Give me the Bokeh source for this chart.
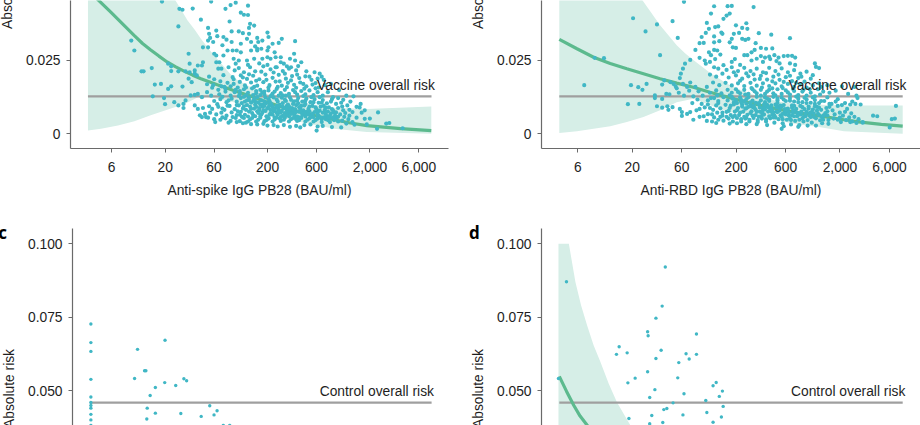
from bokeh.plotting import figure
from bokeh.layouts import column, row
from bokeh.models import FixedTicker, NumeralTickFormatter, Label
from bokeh.embed import file_html
from bokeh.resources import INLINE

# all readings: (log10 of BAU/ml, absolute risk in %)
spike_upper = [(1.27,4.51),(1.75,4.51),(1.94,4.39),(1.99,4.47),(1.89,4.26),(2.11,4.37),(1.44,4.26),(1.47,4.23),(1.57,4.27),
(2.04,4.13),(2.07,4.06),(2.11,4.05),(1.93,3.83),(1.65,3.89),(2.13,3.75),(2.17,3.69),(2.12,3.61),(1.43,3.66),(1.72,3.61),
(1.80,3.52),(1.95,3.49),(2.02,3.49),(2.06,3.43),(2.12,3.41),(2.30,3.45),(1.73,3.41),(1.81,3.33),(1.74,3.27),(1.72,3.18),
(1.77,3.13),(1.87,3.30),(1.90,3.21),(1.95,3.13),(2.04,3.07),(2.10,3.24),(2.20,3.27),(2.21,3.13),(2.25,3.18),(2.14,3.13),
(2.18,2.98),(2.20,2.90),(2.31,3.30),(2.35,3.07),(2.44,3.24),(2.41,3.10),(2.57,3.16),(0.97,3.18),(1.00,2.84),(1.53,2.73),
(1.67,2.95),(1.72,2.95),(1.78,2.73),(1.80,2.67),(1.86,3.02),(1.91,2.84),(1.96,2.84),(2.00,2.84),(2.04,2.78),(2.14,2.84),
(2.20,2.84),(2.24,2.90),(2.30,2.84),(2.31,2.95),(2.37,2.78),(1.80,2.44),(1.83,2.44),(1.87,2.67),(1.67,2.44),(1.66,2.33),
(1.54,2.39),(1.62,2.33),(1.59,2.16),(1.50,2.13),(1.82,2.22),(1.85,2.22),(1.97,2.56),(1.99,2.39),(2.02,2.50),(2.10,2.50),
(2.17,2.56),(2.25,2.56),(2.30,2.61),(2.33,2.56),(2.38,2.61),(2.43,2.61),(2.56,2.73),(2.52,2.56),(2.57,2.50),(2.43,2.44),
(2.46,2.39),(2.63,2.44),(2.53,2.27),(2.39,2.27),(1.33,2.39),(1.36,2.30),(1.36,2.14),(1.43,2.13),(1.17,2.24),(1.07,2.13),
(1.09,2.13),(1.54,2.10),(1.59,2.05),(1.61,1.99),(1.53,1.88),(1.56,1.76),(1.47,1.61),(1.20,1.68),(1.26,1.70),(1.36,1.62),
(1.33,1.53),(1.29,1.22),(1.18,1.28),(1.30,1.01),(1.39,1.08),(1.43,0.97),(1.48,1.02),(1.50,1.14),(1.48,0.88),(1.55,1.31),
(1.59,1.33),(1.62,1.36),(1.66,1.25),(1.71,1.42),(1.76,1.57),(1.59,0.97),(1.62,0.85),(1.67,0.88),(1.73,0.94),(1.64,0.63),
(1.69,0.68),(1.70,0.57),(1.66,0.57)]
spike_mid = [(1.92,2.27),(1.98,2.16),(2.02,2.24),(2.07,2.10),(2.13,2.27),(2.18,2.13),(2.26,2.30),(2.33,2.20),(2.38,2.27),
(2.45,2.14),(2.51,2.22),(2.58,2.16),(2.68,2.13),(2.76,2.10),(2.81,2.05),(1.87,2.00),(1.96,1.93),(2.04,1.99),(2.10,1.87),
(2.16,1.98),(2.22,1.86),(2.28,2.02),(2.35,1.91),(2.41,2.01),(2.48,1.88),(2.54,1.97),(2.61,1.90),(2.67,1.96),(2.73,1.84),
(2.79,1.88),(2.85,1.84),(1.73,1.95),(1.78,1.86),(1.84,1.79),(1.71,1.69),(1.77,1.66),(1.85,1.62),(1.91,1.74),(1.97,1.70),
(2.03,1.77),(2.08,1.65),(2.14,1.75),(2.20,1.64),(2.26,1.76),(2.32,1.66),(2.38,1.78),(2.44,1.64),(2.50,1.74),(2.56,1.67),
(2.62,1.75),(2.68,1.62),(2.74,1.68),(2.80,1.58),(2.86,1.66),(2.92,1.70),(3.00,1.49),(3.07,1.30),(3.14,1.28),
(1.97,1.86),(2.01,1.58),(2.06,1.92),(2.12,2.03),(2.19,1.81),(2.24,2.12),(2.29,1.84),(2.36,2.09),(2.42,1.79),(2.47,2.05),
(2.53,1.82),(2.59,2.02),(2.65,1.70),(2.71,1.95),(2.77,1.73),(2.83,1.95),(1.89,1.53),(1.94,1.62),(2.09,1.58),(2.17,1.60),
(2.31,1.58),(2.40,1.60),(2.49,1.59),(2.58,1.57),(2.66,1.54),(2.77,1.55),(2.11,2.35),(2.22,2.40),(2.30,2.35),(2.49,2.30),(2.60,2.31)]
spike_blob = [(1.83,1.35),(1.89,1.44),(1.94,1.30),(1.99,1.50),(2.03,1.36),(2.07,1.52),(2.11,1.40),(2.15,1.55),(2.19,1.38),
(2.23,1.50),(2.27,1.34),(2.31,1.48),(2.35,1.37),(2.39,1.53),(2.43,1.39),(2.47,1.50),(2.51,1.36),(2.55,1.49),(2.59,1.34),
(2.63,1.46),(2.67,1.35),(2.71,1.48),(2.75,1.32),(2.79,1.42),(2.84,1.30),(2.89,1.42),(2.94,1.25),(2.99,1.22),(1.78,1.12),
(1.84,1.18),(1.90,1.08),(1.95,1.20),(2.00,1.10),(2.04,1.22),(2.08,1.10),(2.12,1.24),(2.16,1.12),(2.20,1.25),(2.24,1.14),
(2.28,1.24),(2.32,1.12),(2.36,1.24),(2.40,1.10),(2.44,1.23),(2.48,1.12),(2.52,1.24),(2.56,1.11),(2.60,1.22),(2.64,1.10),
(2.68,1.20),(2.72,1.08),(2.76,1.18),(2.80,1.06),(2.84,1.15),(2.88,1.04),(2.92,1.10),(2.97,1.02),(3.02,1.06),(3.08,0.97),
(1.76,0.85),(1.82,0.92),(1.88,0.82),(1.93,0.95),(1.98,0.84),(2.02,0.97),(2.06,0.86),(2.10,0.98),(2.14,0.85),(2.18,1.00),
(2.22,0.88),(2.26,1.00),(2.30,0.87),(2.34,1.00),(2.38,0.88),(2.42,0.99),(2.46,0.87),(2.50,1.00),(2.54,0.88),(2.58,0.98),
(2.62,0.86),(2.66,0.97),(2.70,0.85),(2.74,0.95),(2.78,0.84),(2.82,0.93),(2.86,0.82),(2.90,0.90),(2.94,0.80),(2.99,0.88),
(3.04,0.80),(3.10,0.82),(1.80,0.66),(1.85,0.72),(1.90,0.62),(1.95,0.73),(2.00,0.64),(2.04,0.75),(2.08,0.65),(2.12,0.76),
(2.16,0.64),(2.20,0.77),(2.24,0.66),(2.28,0.78),(2.32,0.65),(2.36,0.77),(2.40,0.66),(2.44,0.78),(2.48,0.64),(2.52,0.77),
(2.56,0.66),(2.60,0.76),(2.64,0.64),(2.68,0.75),(2.72,0.63),(2.76,0.74),(2.80,0.62),(2.84,0.72),(2.88,0.60),(2.92,0.70),
(2.96,0.62),(3.01,0.66),(3.05,0.58),(3.10,0.62),(3.17,0.55),(3.22,0.72),(3.25,0.51),(1.78,0.50),(1.84,0.48),(1.89,0.53),
(1.94,0.44),(1.99,0.54),(2.03,0.43),(2.07,0.54),(2.11,0.42),(2.15,0.54),(2.19,0.42),(2.23,0.55),(2.27,0.43),(2.31,0.54),
(2.35,0.42),(2.39,0.55),(2.43,0.44),(2.47,0.55),(2.51,0.42),(2.55,0.54),(2.59,0.44),(2.63,0.54),(2.67,0.42),(2.71,0.53),
(2.75,0.42),(2.79,0.52),(2.83,0.40),(2.87,0.50),(2.91,0.40),(2.95,0.47),(2.99,0.42),(3.03,0.45),(3.07,0.35),(3.13,0.40),
(3.15,0.31),(3.27,0.32),(2.06,0.36),(2.14,0.33),(2.20,0.32),(2.26,0.34),(2.30,0.28),(2.36,0.30),(2.40,0.25),(2.46,0.30),
(2.52,0.24),(2.58,0.27),(2.62,0.22),(2.66,0.30),(2.72,0.32),(2.78,0.11),(2.79,0.25),(2.84,0.27),(2.93,0.23),(3.02,0.22),
(3.38,0.73),(3.37,0.17),(3.46,0.35),(3.49,0.37),(3.62,0.19),(3.20,0.90),(3.25,0.80),(3.30,0.52),(2.33,1.05),(2.45,1.05),
(2.55,1.02),(2.39,0.72),(2.50,0.70),(2.61,0.56),(2.37,0.56),(2.25,0.72),(2.46,0.48),(2.57,0.60),(2.18,0.60),(2.29,0.60)]
spike_dense = [(2.02,1.29),(2.05,1.05),(2.09,1.31),(2.13,0.92),(2.17,1.19),(2.21,0.71),(2.25,1.41),(2.29,1.05),(2.33,0.82),(2.37,1.44),
(2.41,0.93),(2.45,1.31),(2.49,0.79),(2.53,1.16),(2.57,1.42),(2.61,0.91),(2.65,1.29),(2.69,0.68),(2.73,1.25),(2.77,0.90),
(2.81,1.25),(2.85,0.95),(2.89,0.76),(2.93,1.18),(2.97,0.73),(2.01,0.77),(2.05,0.58),(2.09,0.82),(2.13,0.49),(2.17,0.86),
(2.21,0.48),(2.25,0.93),(2.29,0.47),(2.33,0.71),(2.37,0.49),(2.41,0.83),(2.45,0.61),(2.49,0.95),(2.53,0.50),(2.57,0.84),
(2.61,0.47),(2.65,0.80),(2.69,0.48),(2.73,0.58),(2.77,0.47),(2.81,0.79),(2.85,0.56),(2.89,0.47),(2.93,0.84),(2.97,0.53),
(2.12,1.15),(2.16,1.32),(2.21,1.07),(2.26,0.81),(2.31,1.18),(2.35,0.93),(2.39,1.17),(2.43,0.72),(2.47,1.17),(2.51,0.94),
(2.55,0.74),(2.59,1.13),(2.63,0.95),(2.67,1.13),(2.71,0.93),(2.75,1.08),(2.79,0.73),(2.83,1.06),(2.87,0.89),(2.91,0.62),
(1.81,1.01),(1.86,0.86),(1.91,0.96),(1.96,0.57),(2.00,0.98),(2.03,0.65),(2.07,0.94),(2.11,0.59),(2.15,0.71),(2.19,0.92),
(2.23,0.61),(2.27,0.95),(2.31,0.52),(2.35,0.65),(2.39,0.95),(2.43,0.57),(2.47,0.71),(2.51,0.60),(2.55,0.82),(2.59,0.59),
(2.63,0.73),(2.67,0.59),(2.71,0.77),(2.75,0.57),(2.79,0.64),(2.83,0.50),(2.87,0.66),(2.91,0.53),(2.95,0.73),(2.99,0.58),
(3.03,0.93),(3.06,0.71),(3.09,0.50),(3.13,0.74),(3.17,0.92),(3.21,1.02),(3.04,1.16),(3.11,1.10),(1.86,1.26),(1.92,1.14),
(1.88,1.60),(1.82,1.50),(1.75,1.30),(1.74,0.72),(1.72,0.55),(1.79,0.40),(1.86,0.56),(1.92,0.38),(2.00,0.40),(2.09,0.38),
(1.98,1.42),(2.03,1.46),(2.07,1.26),(2.10,1.14),(2.14,1.06),(2.18,1.10),(2.23,1.00),(2.27,1.10),(2.32,0.97),(2.37,0.80),
(2.41,0.76),(2.45,0.92),(2.49,0.86),(2.53,0.68),(2.57,0.72),(2.62,0.78),(2.66,0.70),(2.70,0.66),(2.74,0.68),(2.78,0.76),
(2.82,0.55),(2.86,0.74),(2.90,0.56),(2.94,0.56),(2.19,1.46),(2.23,1.32),(2.27,1.44),(2.33,1.28),(2.41,1.30),(2.48,1.30),
(2.22,0.80),(2.31,0.91),(2.36,0.83),(2.42,0.52),(2.47,0.63),(2.52,0.86),(2.58,0.50),(2.60,1.04),(2.67,1.02),(2.34,1.31)]

rbd_upper = [(1.80,4.50),(2.09,4.35),(2.22,4.35),(2.26,4.36),(2.47,4.32),(2.06,4.10),(2.24,4.10),(2.21,4.03),(2.18,3.92),
(1.31,3.94),(1.69,3.84),(1.54,3.73),(2.02,3.78),(2.30,3.70),(2.40,3.77),(2.36,3.61),(2.41,3.58),(2.10,3.64),(2.13,3.66),
(2.04,3.58),(1.43,3.49),(2.01,3.44),(2.16,3.45),(2.17,3.41),(2.28,3.41),(2.33,3.44),(2.52,3.43),(2.64,3.38),(2.82,3.26),
(1.74,3.27),(1.97,3.30),(2.09,3.32),(2.26,3.24),(2.36,3.24),(2.39,3.20),(2.42,3.24),(2.49,3.09),(1.95,3.09),(1.99,3.10),
(2.09,3.12),(2.14,3.16),(2.24,3.12),(2.27,2.95),(2.30,2.93),(1.91,2.86),(1.57,2.68),(2.04,2.78),(2.09,2.86),(2.12,2.84),
(2.06,2.68),(2.15,2.70),(2.54,2.93),(2.59,2.90),(2.65,2.91),(2.48,2.86),(2.45,2.78),(2.41,2.68),(2.38,2.68),(0.94,2.59),
(1.03,2.58),(1.86,2.52),(1.95,2.59),(2.00,2.50),(2.05,2.45),(2.10,2.55),(2.01,2.39),(1.81,2.39),(1.79,2.22),(1.77,2.05),
(2.29,2.55),(2.26,2.45),(2.34,2.35),(2.45,2.50),(2.50,2.56),(2.54,2.65),(2.58,2.60),(2.62,2.63),(2.67,2.68),(2.71,2.60),
(2.76,2.65),(2.80,2.66),(2.84,2.66),(2.87,2.60),(2.56,2.45),(2.63,2.55),(2.69,2.48),(2.72,2.40),(2.82,2.40),(2.87,2.35),
(3.06,2.40),(3.07,2.28),(3.10,2.24),(0.84,1.66),(1.29,1.66),(1.36,1.59),(1.40,1.50),(1.44,1.70),(1.26,1.01),(1.37,1.02),
(1.52,1.31),(1.52,1.22),(1.59,1.19),(1.54,0.94),(1.59,0.89),(1.64,0.94),(1.69,0.91),(1.65,0.82),(1.61,1.82),(1.59,1.68),
(1.63,1.36),(1.66,1.35),(1.67,1.76),(1.70,1.70),(1.73,1.55),(1.76,0.85),(1.78,0.74),(1.78,0.61),(1.83,0.68),(1.89,0.48),
(1.86,0.74),(1.76,1.90),(1.72,1.62),(1.75,1.40),(1.79,1.70),(1.83,1.60),(1.86,1.75),(1.85,1.47),(1.80,1.30),(1.91,1.60),
(1.94,1.45),(1.89,1.28),(1.93,1.17),(1.88,1.05),(1.97,1.02),(1.95,0.85),(1.92,0.80),(2.00,0.90),(1.98,1.30),(2.02,1.60)]
rbd_mid = [(2.09,2.27),(2.13,2.22),(2.18,2.34),(2.21,2.18),(2.26,2.27),(2.32,2.14),(2.38,2.25),(2.44,2.14),(2.50,2.22),(2.56,2.10),
(2.62,2.25),(2.68,2.14),(2.74,2.23),(2.80,2.10),(2.86,2.17),(2.92,2.05),(2.98,2.12),(3.04,2.00),(2.05,2.02),(2.11,1.95),
(2.17,2.05),(2.23,1.92),(2.30,1.99),(2.36,1.88),(2.42,1.96),(2.48,1.85),(2.54,1.98),(2.60,1.85),(2.66,1.95),(2.72,1.84),
(2.78,1.93),(2.84,1.80),(2.90,1.90),(2.96,1.78),(3.02,1.88),(3.10,1.72),(3.18,1.66),(3.32,1.62),(3.44,1.60),(2.08,1.75),
(2.14,1.66),(2.20,1.74),(2.26,1.65),(2.32,1.72),(2.38,1.63),(2.44,1.74),(2.50,1.64),(2.56,1.72),(2.62,1.63),(2.68,1.72),
(2.74,1.62),(2.80,1.70),(2.86,1.60),(2.92,1.68),(2.98,1.58),(3.04,1.65),(3.09,1.52),(3.14,1.44),(3.20,1.40),(3.26,1.47),
(3.38,1.36),(3.46,1.30),(3.47,1.22),(3.42,1.10),(3.50,1.00),(3.45,1.02),
(2.47,2.03),(2.53,1.87),(2.59,2.07),(2.65,1.79),(2.71,2.02),(2.76,1.77),(2.82,1.98),(2.88,1.74),(2.93,1.95),(2.40,2.06),
(2.34,1.81),(2.28,2.10),(2.45,1.56),(2.55,1.58),(2.65,1.55),(2.75,1.56),(2.85,1.53),(2.95,1.50),(3.01,1.52),(3.12,1.60)]
rbd_blob = [(2.05,1.40),(2.11,1.48),(2.16,1.38),(2.22,1.50),(2.26,1.40),(2.30,1.52),(2.34,1.38),(2.38,1.50),(2.42,1.36),(2.46,1.52),
(2.50,1.38),(2.54,1.50),(2.58,1.36),(2.62,1.50),(2.66,1.38),(2.70,1.52),(2.74,1.36),(2.78,1.48),(2.82,1.34),(2.86,1.46),
(2.90,1.32),(2.94,1.44),(2.98,1.30),(3.02,1.40),(3.06,1.28),(3.11,1.34),(3.18,1.24),(3.28,1.18),(3.35,1.05),(2.03,1.14),
(2.09,1.22),(2.13,1.12),(2.18,1.25),(2.22,1.14),(2.26,1.26),(2.30,1.14),(2.34,1.24),(2.38,1.12),(2.42,1.25),(2.46,1.13),
(2.50,1.26),(2.54,1.14),(2.58,1.24),(2.62,1.12),(2.66,1.26),(2.70,1.14),(2.74,1.24),(2.78,1.12),(2.82,1.22),(2.86,1.10),
(2.90,1.20),(2.94,1.08),(2.98,1.17),(3.02,1.06),(3.06,1.15),(3.10,1.05),(3.15,1.12),(3.20,1.02),(3.28,0.95),(3.37,0.85),
(2.05,0.88),(2.11,0.97),(2.15,0.87),(2.20,0.99),(2.24,0.88),(2.28,1.00),(2.32,0.88),(2.36,1.00),(2.40,0.87),(2.44,1.00),
(2.48,0.88),(2.52,1.00),(2.56,0.88),(2.60,0.99),(2.64,0.88),(2.68,1.00),(2.72,0.87),(2.76,0.98),(2.80,0.86),(2.84,0.97),
(2.88,0.85),(2.92,0.95),(2.96,0.84),(3.00,0.93),(3.04,0.83),(3.08,0.92),(3.12,0.82),(3.17,0.88),(3.23,0.80),(3.30,0.72),
(3.41,0.70),(2.07,0.66),(2.12,0.72),(2.17,0.62),(2.21,0.75),(2.25,0.64),(2.29,0.76),(2.33,0.64),(2.37,0.76),(2.41,0.65),
(2.45,0.77),(2.49,0.64),(2.53,0.76),(2.57,0.66),(2.61,0.76),(2.65,0.65),(2.69,0.76),(2.73,0.63),(2.77,0.74),(2.81,0.62),
(2.85,0.73),(2.89,0.60),(2.93,0.72),(2.97,0.60),(3.01,0.70),(3.05,0.58),(3.09,0.68),(3.13,0.56),(3.18,0.63),(3.24,0.52),
(3.30,0.55),(3.36,0.47),(3.42,0.42),(3.52,0.40),(3.62,0.62),(3.66,0.60),(3.80,0.50),(3.83,0.52),(3.84,0.95),(2.13,0.48),
(2.18,0.45),(2.23,0.52),(2.27,0.42),(2.31,0.54),(2.35,0.42),(2.39,0.52),(2.43,0.42),(2.47,0.54),(2.51,0.40),(2.55,0.52),
(2.59,0.42),(2.63,0.53),(2.67,0.38),(2.71,0.50),(2.75,0.36),(2.79,0.48),(2.83,0.32),(2.87,0.44),(2.91,0.30),(2.95,0.42),
(2.99,0.28),(3.03,0.38),(3.07,0.28),(3.13,0.36),(3.19,0.34),(3.31,0.40),(3.40,0.40),(3.46,0.37),(3.52,0.38),(2.74,0.17),
(2.76,0.26),(3.78,0.22),(2.24,0.35),(2.31,0.36),(2.40,0.33),(2.50,0.33),(2.60,0.30),(2.90,0.24),(2.58,1.08),(2.70,1.05),
(2.64,0.76),(2.75,0.68),(2.47,0.90),(2.56,0.65),(2.68,0.56),(2.84,0.63),(2.40,0.55),(2.52,0.58),(2.80,0.78),(2.60,1.20)]
rbd_dense = [(2.24,1.31),(2.28,1.07),(2.32,1.43),(2.36,0.93),(2.40,1.18),(2.44,0.71),(2.48,1.45),(2.52,1.05),(2.56,0.81),(2.60,1.44),
(2.64,0.97),(2.68,1.31),(2.72,0.79),(2.76,1.17),(2.80,1.41),(2.84,0.89),(2.88,1.27),(2.92,0.66),(2.96,1.23),(3.00,0.86),
(3.04,1.24),(3.08,0.79),(3.12,1.12),(3.16,0.71),(3.20,0.92),(2.23,0.78),(2.27,0.57),(2.31,0.81),(2.35,0.50),(2.39,0.86),
(2.43,0.48),(2.47,0.95),(2.51,0.47),(2.55,0.72),(2.59,0.49),(2.63,0.82),(2.67,0.62),(2.71,0.93),(2.75,0.50),(2.79,0.84),
(2.83,0.47),(2.87,0.80),(2.91,0.48),(2.95,0.58),(2.99,0.47),(3.03,0.74),(3.07,0.53),(3.11,0.46),(3.15,0.64),(3.19,0.47),
(2.35,1.16),(2.39,1.34),(2.44,1.07),(2.49,0.82),(2.54,1.30),(2.58,0.93),(2.62,1.17),(2.66,0.72),(2.70,1.20),(2.74,0.93),
(2.78,0.77),(2.82,1.13),(2.86,0.95),(2.90,1.08),(2.94,0.91),(2.98,1.05),(3.02,0.72),(3.06,1.02),(3.10,0.89),(3.14,0.62),
(2.03,1.00),(2.08,0.82),(2.13,1.05),(2.17,0.72),(2.21,0.58),(2.25,0.96),(2.29,0.62),(2.34,0.72),(2.38,0.58),(2.42,0.92),
(2.46,0.62),(2.50,0.75),(2.54,0.60),(2.58,0.83),(2.62,0.60),(2.66,0.56),(2.70,0.74),(2.74,0.58),(2.78,0.66),(2.82,0.52),
(2.86,0.60),(2.90,0.71),(2.94,0.52),(2.98,0.75),(3.02,0.57),(3.06,0.93),(3.10,0.64),(3.14,0.48),(3.18,0.77),(3.22,1.02),
(3.25,0.66),(3.28,0.48),(3.33,0.62),(3.35,0.75),(3.39,0.56),(3.44,0.58),(3.48,0.50),(3.26,1.10),(3.32,0.98),(3.40,1.00),
(2.06,1.22),(2.12,1.31),(2.15,0.58),(2.09,0.56),(2.03,0.67),(1.99,0.60),(1.95,0.58),(2.02,0.44),(2.07,0.42),(2.11,0.37),
(2.27,1.20),(2.31,1.05),(2.35,1.08),(2.40,1.03),(2.45,0.93),(2.49,1.06),(2.53,0.90),(2.57,1.00),(2.61,0.91),(2.65,0.80),
(2.69,0.90),(2.73,0.96),(2.77,0.84),(2.81,0.72),(2.85,0.80),(2.89,0.70),(2.93,0.76),(2.97,0.68),(3.01,0.62),(3.05,0.70)]

control_spike = [(0.557,7.27),(0.557,6.64),(0.557,6.34),(0.557,5.39),(0.557,4.79),(0.557,4.60),(0.557,4.50),(0.557,4.41),
(0.557,4.20),(0.557,4.01),(0.557,3.82),(1.015,6.41),(1.285,6.72),(1.097,5.68),(1.084,5.68),(0.986,5.42),(1.19,5.11),
(1.282,5.28),(1.39,5.18),(1.47,5.41),(1.497,5.34),(1.139,4.84),(1.11,4.41),(1.19,4.24),(1.106,4.04),(1.44,4.23),
(1.724,4.49),(1.796,4.32),(1.766,4.18),(1.64,4.13),(1.857,3.82),(1.92,3.82)]
control_rbd = [(0.669,8.71),(1.62,9.21),(1.59,7.88),(1.53,7.47),(1.45,7.01),(1.455,6.87),(1.92,6.93),(1.176,6.50),(1.15,6.24),
(1.253,6.29),(1.58,6.38),(1.53,6.10),(1.75,5.96),(1.82,6.26),(1.85,6.08),(1.92,6.24),(1.45,5.65),(1.33,5.43),(1.26,5.27),
(1.74,5.44),(2.11,5.28),(2.08,5.17),(2.17,4.99),(1.52,5.04),(1.47,4.77),(1.80,4.90),(2.14,4.81),(2.01,4.67),(1.695,4.59),
(1.635,4.40),(1.606,4.36),(2.177,4.47),(2.02,4.26),(1.79,4.18),(1.49,4.16),(1.27,4.06),(2.16,4.11),(2.08,3.93),(1.596,3.92),
(1.47,3.88),(0.592,5.42)]

fit_spike = [(0.547,4.90),(0.77,4.15),(1.00,3.35),(1.08,3.08),(1.16,2.86),(1.24,2.65),(1.32,2.45),(1.40,2.29),(1.49,2.13),(1.57,2.00),(1.65,1.88),(1.81,1.67),(1.97,1.48),(2.14,1.28),
(2.30,1.08),(2.46,0.90),(2.62,0.74),(2.79,0.60),(2.95,0.48),(3.11,0.37),(3.27,0.28),(3.60,0.18),(3.90,0.11)]
upper_spike = [(0.547,10.0),(1.25,10.0),(1.40,4.55),(1.45,4.27),(1.52,3.86),(1.59,3.55),(1.65,3.24),(1.72,2.93),(1.78,2.67),(1.88,2.27),(1.97,1.91),(2.14,1.58),(2.30,1.36),(2.46,1.20),(2.62,1.08),(2.79,0.97),(2.95,0.89),(3.27,0.85),(3.90,0.93)]
lower_spike = [(0.547,0.11),(0.674,0.17),(0.84,0.28),(1.00,0.43),(1.16,0.63),(1.32,0.82),(1.49,1.02),(1.65,1.30),(1.81,1.20),(1.97,1.08),(2.30,0.68),(2.62,0.40),(2.95,0.17),(3.27,0.06),(3.90,0.00)]
fit_rbd = [(0.60,3.22),(0.77,2.90),(0.93,2.61),(1.09,2.40),(1.25,2.22),(1.41,2.05),(1.57,1.88),(1.73,1.73),(1.89,1.59),(2.05,1.42),(2.22,1.25),(2.38,1.10),(2.54,0.97),(2.70,0.85),(2.86,0.74),(3.02,0.65),(3.18,0.57),(3.34,0.48),(3.50,0.40),(3.70,0.32),(3.905,0.26)]
upper_rbd = [(0.60,10.0),(1.25,10.0),(1.40,4.55),(1.48,4.15),(1.57,3.70),(1.65,3.36),(1.73,3.02),(1.81,2.75),(1.89,2.52),(2.05,2.08),(2.22,1.70),(2.38,1.44),(2.54,1.25),(2.70,1.11),(2.86,1.02),(3.34,0.97),(3.905,0.97)]
lower_rbd = [(0.60,0.03),(0.77,0.09),(0.93,0.17),(1.09,0.26),(1.25,0.40),(1.41,0.57),(1.57,0.80),(1.73,1.08),(1.89,1.20),(2.22,0.75),(2.54,0.57),(2.86,0.34),(3.10,0.23),(3.34,0.09),(3.905,0.00)]
fit_rbd_control = [(0.60,5.49),(0.67,4.98),(0.74,4.50),(0.80,4.14),(0.87,3.82),(0.90,3.60)]
upper_rbd_control = [(0.592,10.0),(0.692,10.0),(0.755,8.70),(0.81,7.90),(0.868,7.22),(0.93,6.55),(0.996,5.98),(1.075,5.25),(1.156,4.60),(1.285,3.82),(1.32,3.50)]
lower_rbd_control = [(0.592,3.50),(1.32,3.50)]

x_ticks = [6, 20, 60, 200, 600, 2000, 6000]
vaccine_risk = 1.28
control_risk = 4.60
extent_spike = (0.547, 3.902)
extent_rbd = (0.60, 3.905)

TEAL = "#40B7C5"; GREEN = "#5CBA8E"; BAND = "#D6EEE7"; GREY = "#9F9F9F"; AXIS = "#6A6A6A"; INK = "#1E1E1E"
FONT = "Liberation Sans"; FS = "13.8px"

def xs(pts): return [10 ** p[0] for p in pts]
def ys(pts): return [p[1] / 100 for p in pts]

def panel(w, h, left, right, top, bottom, x0, x1, y0, y1, xlabel=None):
    p = figure(width=w, height=h, x_axis_type="log", x_range=(x0, x1), y_range=(y0, y1),
               output_backend="svg", toolbar_location=None,
               x_axis_location="below" if xlabel else None,
               min_border_left=left, min_border_right=right, min_border_top=top, min_border_bottom=bottom,
               outline_line_color=None, background_fill_color="white", border_fill_color="white")
    p.grid.visible = False
    ax = p.yaxis[0]
    ax.axis_line_color = AXIS; ax.major_tick_line_color = AXIS; ax.minor_tick_line_color = None
    ax.major_tick_in = 0; ax.major_tick_out = 4; ax.major_label_standoff = 6
    ax.major_label_text_font = FONT; ax.major_label_text_font_size = FS; ax.major_label_text_color = INK
    ax.axis_line_width = 1.2; ax.major_tick_line_width = 1
    if xlabel:
        xa = p.xaxis[0]
        xa.ticker = FixedTicker(ticks=x_ticks)
        xa.formatter = NumeralTickFormatter(format="0,0")
        xa.axis_line_color = AXIS; xa.major_tick_line_color = AXIS; xa.minor_tick_line_color = None
        xa.major_tick_in = 0; xa.major_tick_out = 4; xa.major_label_standoff = 9
        xa.major_label_text_font = FONT; xa.major_label_text_font_size = FS; xa.major_label_text_color = INK
        xa.axis_label = xlabel; xa.axis_label_text_font = FONT; xa.axis_label_text_font_size = FS
        xa.axis_label_text_font_style = "normal"; xa.axis_label_text_color = INK; xa.axis_label_standoff = 8
        xa.axis_line_width = 1.2
    return p

def dress(p, upper, lower, fit, pts, risk, extent, label, label_x, label_y, ylab_x, ylab_y, size):
    if upper:
        p.patch(x=xs(upper) + xs(lower)[::-1], y=ys(upper) + ys(lower)[::-1], fill_color=BAND, line_color=None)
    p.line(x=[10 ** extent[0], 10 ** extent[1]], y=[risk / 100, risk / 100], line_color=GREY, line_width=2.2)
    if fit:
        p.line(x=xs(fit), y=ys(fit), line_color=GREEN, line_width=3.2)
    p.scatter(x=xs(pts), y=ys(pts), size=size, fill_color=TEAL, line_color=None)
    p.add_layout(Label(x=10 ** label_x, y=label_y / 100, text=label, text_align="right", text_baseline="alphabetic",
                       text_font=FONT, text_font_size=FS, text_color=INK))
    p.add_layout(Label(x=ylab_x, y=ylab_y, x_units="screen", y_units="screen", text="Absolute risk", angle=90, angle_units="deg",
                       text_align="center", text_baseline="middle", text_font=FONT, text_font_size=FS, text_color=INK), "left")

a = panel(460, 215, 70, 12, 0, 67, 10 ** 0.3765, 10 ** 4.068, -0.005, 0.04545, "Anti-spike IgG PB28 (BAU/ml)")
a.yaxis[0].ticker = FixedTicker(ticks=[0, 0.025])
a.yaxis[0].major_label_overrides = {0: "0", 0.025: "0.025"}
dress(a, upper_spike, lower_spike, fit_spike, spike_upper + spike_mid + spike_blob + spike_dense, vaccine_risk, extent_spike,
      "Vaccine overall risk", 3.935, 1.65, 0, 159, 4.2)

b = panel(460, 215, 81, 0, 0, 67, 10 ** (0.778 - 36.3 / 103.9), 10 ** (0.778 + 342.7 / 103.9), -0.005, 0.04545, "Anti-RBD IgG PB28 (BAU/ml)")
b.yaxis[0].ticker = FixedTicker(ticks=[0, 0.025])
b.yaxis[0].major_label_overrides = {0: "0", 0.025: "0.025"}
dress(b, upper_rbd, lower_rbd, fit_rbd, rbd_upper + rbd_mid + rbd_blob + rbd_dense, vaccine_risk, extent_rbd,
      "Vaccine overall risk", 3.94, 1.65, 0, 159, 4.2)

c = panel(460, 210, 70, 12, 13, 0, 10 ** 0.3765, 10 ** 4.068, 0.0382, 0.1052)
c.yaxis[0].ticker = FixedTicker(ticks=[0.05, 0.075, 0.1])
c.yaxis[0].formatter = NumeralTickFormatter(format="0.000")
dress(c, None, None, None, control_spike, control_risk, extent_spike, "Control overall risk", 3.925, 4.98, 0, 37, 3.4)
c.add_layout(Label(x=2, y=193, x_units="screen", y_units="screen", text="c", text_align="center", text_baseline="middle",
                   text_font="Open Sans", text_font_style="bold", text_font_size="17px", text_color="black"), "left")

d = panel(460, 210, 81, 0, 13, 0, 10 ** (0.778 - 36.3 / 103.9), 10 ** (0.778 + 342.7 / 103.9), 0.0382, 0.1052)
d.yaxis[0].ticker = FixedTicker(ticks=[0.05, 0.075, 0.1])
d.yaxis[0].formatter = NumeralTickFormatter(format="0.000")
dress(d, upper_rbd_control, lower_rbd_control, fit_rbd_control, control_rbd, control_risk, extent_rbd, "Control overall risk", 3.93, 4.98, 0, 37, 3.4)
d.add_layout(Label(x=7, y=193, x_units="screen", y_units="screen", text="d", text_align="center", text_baseline="middle",
                   text_font="Open Sans", text_font_style="bold", text_font_size="17px", text_color="black"), "left")

page = column(row(a, b), row(c, d))
open("out.html", "w").write(file_html(page, INLINE))
